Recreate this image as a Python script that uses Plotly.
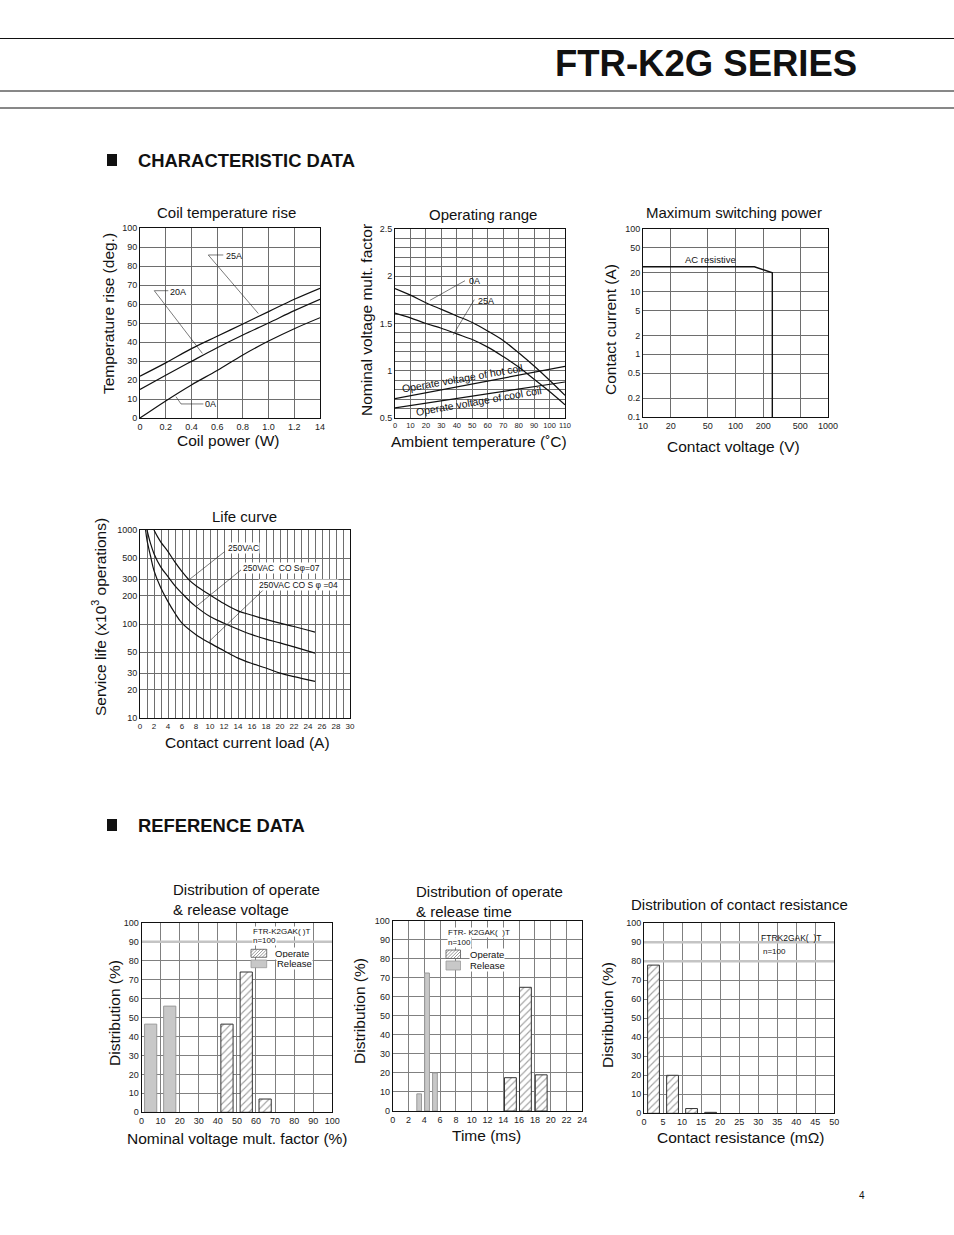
import plotly.graph_objects as go
import math

W, H = 954, 1235
FONT = "Liberation Sans, Arial, Helvetica, sans-serif"


def fx(p):
    return p / W


def fy(p):
    return 1 - p / H


# ---------------- data ----------------
# Coil temperature rise
coil_power = [0, 0.2, 0.4, 0.6, 0.8, 1.0, 1.2, 1.4]
coil_ticktext = ["0", "0.2", "0.4", "0.6", "0.8", "1.0", "1.2", "14"]
rise_25a = [22, 29, 36.5, 43, 49.5, 56, 62.5, 68.3]
rise_20a = [15, 22.5, 29.8, 37, 43.7, 50, 56.5, 62.5]
rise_0a = [0, 9, 17.4, 25, 33.2, 40.5, 47, 52.8]

# Operating range
amb_temp = [0, 10, 20, 30, 40, 50, 60, 70, 80, 90, 100, 110]
range_0a = [1.87, 1.80, 1.72, 1.65, 1.58, 1.51, 1.42, 1.32, 1.19, 1.05, 0.90, 0.74]
range_25a = [1.61, 1.56, 1.50, 1.45, 1.39, 1.33, 1.25, 1.15, 1.04, 0.91, 0.78, 0.64]
coil_temp = [0, 110]
hot_coil_v = [0.705, 1.047]
cool_coil_v = [0.606, 0.881]

# Maximum switching power
sw_voltage = [10, 160, 250, 250]
sw_current = [25, 25, 20, 0.1]
sw_xticks = [10, 20, 50, 100, 200, 500, 1000]
sw_yticks = [0.1, 0.2, 0.5, 1, 2, 5, 10, 20, 50, 100]

# Life curve
life_x_top = [2, 2.5, 3, 4, 5, 6, 7, 8, 10, 12, 14, 16, 18, 20, 22, 25]
life_top = [1000, 850, 740, 589, 455, 361, 295, 255, 204, 165, 138, 124, 112, 102, 94, 82]
life_x_mid = [1.0, 1.5, 2, 3, 4, 5, 6, 7, 8, 10, 12, 14, 16, 18, 20, 22, 25]
life_mid = [1000, 720, 560, 400, 319, 255, 212, 178, 153, 120, 102, 88, 77, 69, 63, 57, 49]
life_x_low = [0.8, 1, 1.5, 2, 3, 4, 5, 6, 8, 10, 12, 14, 16, 18, 20, 22, 25]
life_low = [1000, 780, 530, 370, 240, 173, 130, 102, 77, 62.6, 52, 43.4, 38, 34, 30, 27.5, 24.5]
life_yticks = [10, 20, 30, 50, 100, 200, 300, 500, 1000]

# Distribution of operate & release voltage
volt_release_x = [4.8, 14.8]
volt_release_y = [46.5, 56]
volt_operate_x = [44.8, 54.9, 64.8]
volt_operate_y = [46.5, 74, 7]

# Distribution of operate & release time
time_release_x = [3.35, 4.35, 5.35]
time_release_y = [9, 72.5, 20]
time_operate_x = [14.9, 16.8, 18.8]
time_operate_y = [17.5, 65, 19]

# Distribution of contact resistance
res_x = [2.5, 7.5, 12.5, 17.5]
res_y = [78, 20, 2.5, 0.5]

# leader lines (data coordinates)
lead_25a = ([0.648, 0.531, 0.92], [85.8, 85.8, 55])
lead_20a = ([0.22, 0.111, 0.485], [67, 67, 34])
lead_0a = ([0.28, 0.319, 0.493], [11.2, 7.4, 7.4])
lead_or_0a = ([45.3, 22.6], [1.953, 1.745])
lead_or_25a = ([51.3, 37.7], [1.752, 1.381])
lead_l1 = ([12.1, 7.0], [589, 295])
lead_l2 = ([14.43, 8.0], [376, 153])
lead_l3 = ([17.86, 9.86], [240, 65])

# ---------------- figure ----------------
fig = go.Figure()
LINE = dict(color="#111", width=1.2)
LEAD = dict(color="#222", width=0.6)


def line_trace(x, y, ax, ln=LINE, shape="spline"):
    fig.add_trace(go.Scatter(x=x, y=y, mode="lines", line=dict(ln, shape=shape),
                             xaxis="x" + ax, yaxis="y" + ax, showlegend=False,
                             hoverinfo="skip"))


# chart 1
for ys in (rise_25a, rise_20a, rise_0a):
    line_trace(coil_power, ys, "")
for lx, ly in (lead_25a, lead_20a, lead_0a):
    line_trace(lx, ly, "", LEAD, "linear")

# chart 2
line_trace(amb_temp, range_0a, "2")
line_trace(amb_temp, range_25a, "2")
line_trace(coil_temp, hot_coil_v, "2", shape="linear")
line_trace(coil_temp, cool_coil_v, "2", shape="linear")
for lx, ly in (lead_or_0a, lead_or_25a):
    line_trace(lx, ly, "2", LEAD, "linear")

# chart 3
line_trace(sw_voltage, sw_current, "3", dict(color="#111", width=1.4), "linear")

# chart 4
line_trace(life_x_top, life_top, "4")
line_trace(life_x_mid, life_mid, "4")
line_trace(life_x_low, life_low, "4")
for lx, ly in (lead_l1, lead_l2, lead_l3):
    line_trace(lx, ly, "4", LEAD, "linear")

HATCH = dict(color="white", line=dict(color="#333", width=1),
             pattern=dict(shape="/", fgcolor="#444", bgcolor="white", size=5, solidity=0.22))
GRAYBAR = dict(color="#c8c8c8", line=dict(color="#9a9a9a", width=1))


def bars(x, y, w, ax, marker):
    fig.add_trace(go.Bar(x=x, y=y, width=w, marker=marker, xaxis="x" + ax, yaxis="y" + ax,
                         showlegend=False, hoverinfo="skip"))


bars(volt_release_x, volt_release_y, 6.4, "5", GRAYBAR)
bars(volt_operate_x, volt_operate_y, 6.4, "5", HATCH)
bars(time_release_x, time_release_y, 0.6, "6", GRAYBAR)
bars(time_operate_x, time_operate_y, 1.5, "6", HATCH)
bars(res_x, res_y, 3.1, "7", HATCH)


# ---------------- axes ----------------
def ax(**kw):
    d = dict(showline=True, mirror=True, linecolor="#111", linewidth=1,
             showgrid=True, gridcolor="#6e6e6e", gridwidth=1, zeroline=False,
             ticks="", tickangle=0, automargin=False,
             tickfont=dict(family=FONT, size=9, color="#222"), fixedrange=True)
    d.update(kw)
    return d


GRID2 = "#808080"
minor1 = dict(showgrid=True, gridcolor="#6e6e6e", gridwidth=1)

fig.update_layout(
    autosize=True, showlegend=False,
    margin=dict(l=0, r=0, t=0, b=0, pad=0, autoexpand=False),
    paper_bgcolor="white", plot_bgcolor="white", barmode="overlay",
    font=dict(family=FONT, color="#111"),
    xaxis=ax(domain=[fx(140), fx(320)], range=[0, 1.4], tickvals=coil_power,
             ticktext=coil_ticktext, anchor="y"),
    yaxis=ax(domain=[fy(418), fy(228)], range=[0, 100], dtick=10, anchor="x"),
    xaxis2=ax(domain=[fx(395), fx(565)], range=[0, 110], dtick=10, anchor="y2",
              tickfont=dict(family=FONT, size=7.5, color="#222")),
    yaxis2=ax(domain=[fy(418), fy(229)], range=[0.5, 2.5], tick0=0.5, dtick=0.5, anchor="x2",
              minor=dict(tick0=0.5, dtick=0.1, **minor1)),
    xaxis3=ax(type="log", domain=[fx(643), fx(828)], range=[1, 3], tickvals=sw_xticks,
              ticktext=[str(v) for v in sw_xticks], anchor="y3"),
    yaxis3=ax(type="log", domain=[fy(417), fy(229)], range=[-1, 2], tickvals=sw_yticks,
              ticktext=[("%g" % v) for v in sw_yticks], anchor="x3"),
    xaxis4=ax(domain=[fx(140), fx(350)], range=[0, 30], dtick=2, anchor="y4",
              tickfont=dict(family=FONT, size=8, color="#222"),
              minor=dict(dtick=1, **minor1)),
    yaxis4=ax(type="log", domain=[fy(718), fy(530)], range=[1, 3], tickvals=life_yticks,
              ticktext=[str(v) for v in life_yticks], anchor="x4"),
    xaxis5=ax(domain=[fx(141.5), fx(332.3)], range=[0, 100], dtick=10, anchor="y5",
              gridcolor=GRID2),
    yaxis5=ax(domain=[fy(1112.3), fy(922.7)], range=[0, 100], dtick=10, anchor="x5",
              gridcolor=GRID2),
    xaxis6=ax(domain=[fx(392.7), fx(582.3)], range=[0, 24], dtick=2, anchor="y6",
              gridcolor=GRID2),
    yaxis6=ax(domain=[fy(1111), fy(920.7)], range=[0, 100], dtick=10, anchor="x6",
              gridcolor=GRID2),
    xaxis7=ax(domain=[fx(644), fx(834.3)], range=[0, 50], dtick=5, anchor="y7",
              gridcolor=GRID2),
    yaxis7=ax(domain=[fy(1113.3), fy(923.3)], range=[0, 100], dtick=10, anchor="x7",
              gridcolor=GRID2),
)

# ---------------- shapes ----------------
shapes = []


def pline(x0, y0, x1, y1, color="#111", width=1):
    shapes.append(dict(type="line", xref="paper", yref="paper", x0=fx(x0), y0=fy(y0),
                       x1=fx(x1), y1=fy(y1), line=dict(color=color, width=width)))


def prect(x0, y0, x1, y1, fill, line_color, width=1, layer="above"):
    shapes.append(dict(type="rect", xref="paper", yref="paper", x0=fx(x0), y0=fy(y0),
                       x1=fx(x1), y1=fy(y1), fillcolor=fill,
                       line=dict(color=line_color, width=width), layer=layer))


def hatch_swatch(x0, y0, x1, y1, step=3.2):
    prect(x0, y0, x1, y1, "white", "#555", 0.8)
    h = y1 - y0
    k = x0 - h
    while k < x1:
        sx, sy, ex, ey = k, y1, k + h, y0
        if sx < x0:
            sy = y1 - (x0 - sx)
            sx = x0
        if ex > x1:
            ey = y0 + (ex - x1)
            ex = x1
        if ex > sx + 0.3:
            pline(sx, sy, ex, ey, "#555", 0.6)
        k += step


# header rules
pline(0, 38.5, W, 38.5, "#111", 1)
pline(0, 91, W, 91, "#111", 1)
pline(0, 108, W, 108, "#111", 1)
# section bullets
prect(107, 154, 117, 166, "#111", "#111", 0)
prect(107, 819, 117, 831, "#111", "#111", 0)

# light grid accents
for yy in (90,):
    shapes.append(dict(type="line", xref="x5", yref="y5", x0=0, x1=100, y0=yy, y1=yy,
                       line=dict(color="#c4c4c4", width=2.5), layer="between"))
for yy in (80, 90):
    shapes.append(dict(type="line", xref="x7", yref="y7", x0=0, x1=50, y0=yy, y1=yy,
                       line=dict(color="#c4c4c4", width=2.5), layer="between"))
# white legend box in chart 7
prect(758, 924, 833.5, 960, "white", "white", 0, layer="between")

# legend swatches
hatch_swatch(251, 949.3, 266.7, 957.3)
prect(251, 960, 266.7, 967.7, "#c8c8c8", "#9a9a9a", 0.8)
hatch_swatch(446, 950, 460.5, 958.5)
prect(446, 961, 460.5, 970, "#c8c8c8", "#9a9a9a", 0.8)

fig.update_layout(shapes=shapes)

# ---------------- annotations ----------------
anns = []


def pa(text, x, y, size=15, xanchor="center", yanchor="middle", angle=0, bold=False,
       bg=None, align="center", color="#111"):
    d = dict(text=("<b>%s</b>" % text) if bold else text, x=fx(x), y=fy(y),
             xref="paper", yref="paper", showarrow=False, xanchor=xanchor,
             yanchor=yanchor, textangle=angle, align=align,
             font=dict(family=FONT, size=size, color=color))
    if bg:
        d["bgcolor"] = bg
    d["borderpad"] = 0
    anns.append(d)


def da(text, x, y, axn, size=9, xanchor="center", angle=0, bg=None):
    d = dict(text=text, x=x, y=y, xref="x" + axn, yref="y" + axn, showarrow=False,
             xanchor=xanchor, yanchor="middle", textangle=angle,
             font=dict(family=FONT, size=size, color="#111"), borderpad=0)
    if bg:
        d["bgcolor"] = bg
    anns.append(d)


# header
pa("FTR-K2G SERIES", 858, 64, size=36.5, xanchor="right", bold=True)
pa("CHARACTERISTIC DATA", 137, 160, size=18.4, xanchor="left", bold=True)
pa("REFERENCE DATA", 137, 825, size=18.4, xanchor="left", bold=True)
pa("4", 862, 1195, size=10)

# chart titles
pa("Coil temperature rise", 226, 212, 15)
pa("Operating range", 483, 215, 15)
pa("Maximum switching power", 734, 212, 15)
pa("Life curve", 245, 516, 15)
pa("Distribution of operate<br>& release voltage", 172, 899, 15, xanchor="left", align="left")
pa("Distribution of operate<br>& release time", 415, 901, 15, xanchor="left", align="left")
pa("Distribution of contact resistance", 739, 904, 15)

# axis titles
pa("Coil power (W)", 228, 440, 15.5)
pa("Temperature rise (deg.)", 108, 314, 15.5, angle=-90)
pa("Ambient temperature (˚C)", 479, 441, 15.5)
pa("Nominal voltage mult. factor", 366, 320, 15.5, angle=-90)
pa("Contact voltage (V)", 733, 447, 15.5)
pa("Contact current (A)", 610, 330, 15.5, angle=-90)
pa("Contact current load (A)", 248, 742, 15.5)
pa("Service life (x10<sup>3</sup> operations)", 99, 617, 15.5, angle=-90)
pa("Nominal voltage mult. factor (%)", 237, 1138, 15.5)
pa("Distribution (%)", 114, 1013, 15.5, angle=-90)
pa("Time (ms)", 487, 1135, 15.5)
pa("Distribution (%)", 359, 1011, 15.5, angle=-90)
pa("Contact resistance (mΩ)", 741, 1137, 15.5)
pa("Distribution (%)", 607, 1015, 15.5, angle=-90)

# chart 1 labels
da("25A", 0.66, 85.3, "", 9, xanchor="left")
da("20A", 0.225, 66.2, "", 9, xanchor="left")
da("0A", 0.5, 7.4, "", 9, xanchor="left")

# chart 2 labels
da("0A", 47.0, 1.945, "2", 9, xanchor="left")
da("25A", 53.0, 1.735, "2", 9, xanchor="left")
da("Operate voltage of hot coil", 43.7, 0.925, "2", 10.5, angle=-10)
da("Operate voltage of cool coil", 53.9, 0.685, "2", 10.5, angle=-10)

# chart 3 label
da("AC resistive", math.log10(53), math.log10(32.5), "3", 9.5)

# chart 4 labels
da("250VAC", 12.4, math.log10(640), "4", 8.5, xanchor="left", bg="white")
da("250VAC  CO Sφ=07", 14.5, math.log10(398), "4", 8.5, xanchor="left", bg="white")
da("250VAC CO S φ =04", 16.9, math.log10(261), "4", 8.5, xanchor="left", bg="white")

# chart 5 legend
pa("FTR-K2GAK( )T", 251.5, 931.7, 8, xanchor="left", bg="white")
pa("n=100", 251.5, 940.7, 8, xanchor="left", bg="white")
pa("Operate", 274, 953, 9.5, xanchor="left", bg="white")
pa("Release", 276, 963.7, 9.5, xanchor="left", bg="white")

# chart 6 legend
pa("FTR- K2GAK(  )T", 446.5, 932.5, 8, xanchor="left", bg="white")
pa("n=100", 446.5, 942, 8, xanchor="left", bg="white")
pa("Operate", 468.5, 954.5, 9.5, xanchor="left", bg="white")
pa("Release", 469, 965.5, 9.5, xanchor="left", bg="white")

# chart 7 legend
pa("FTRK2GAK(  )T", 760, 937.5, 8.5, xanchor="left")
pa("n=100", 762, 951.5, 8, xanchor="left")

fig.update_layout(annotations=anns)

# The figure div is pinned to the page's top-left corner so that it fills the
# 954x1235 window exactly, independent of the default body margin.
fig.write_html("out.html", config={"displayModeBar": False, "staticPlot": True},
               default_width="954px; position:absolute; left:0px; top:0px",
               default_height="1235px")
